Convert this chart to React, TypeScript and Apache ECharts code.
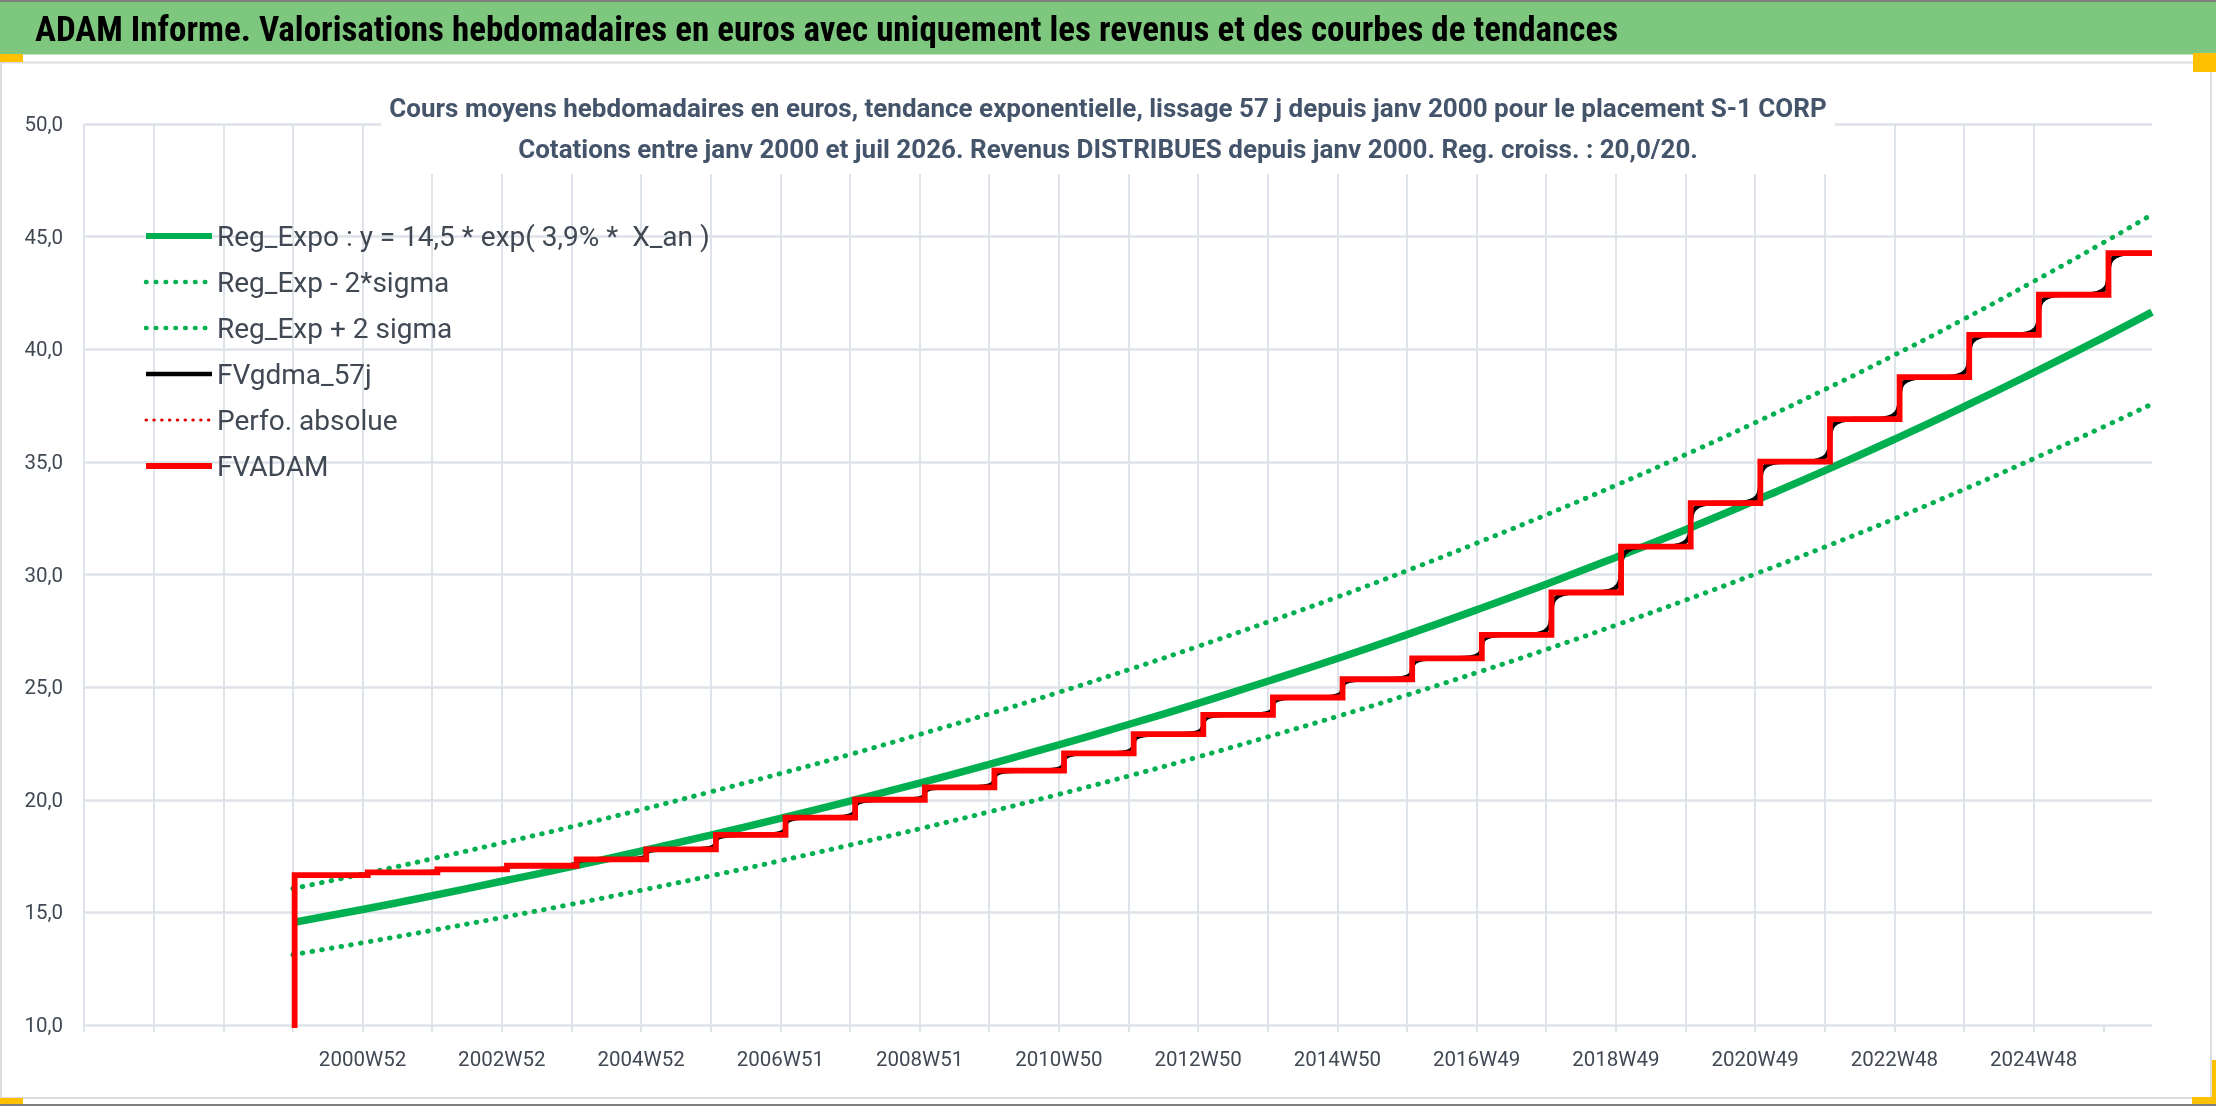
import React, { useEffect, useRef } from 'react';
import * as echarts from 'echarts';

// ---- data ----
const MAIN_TITLE = 'ADAM Informe. Valorisations hebdomadaires en euros avec uniquement les revenus et des courbes de tendances';
const SUBTITLE_1 = 'Cours moyens hebdomadaires en euros, tendance exponentielle, lissage 57 j depuis janv 2000 pour le placement S-1 CORP';
const SUBTITLE_2 = 'Cotations entre janv 2000 et juil 2026. Revenus DISTRIBUES depuis janv 2000. Reg. croiss. : 20,0/20.';

const SERIES_NAMES = [
  'Reg_Expo : y = 14,5 * exp( 3,9% *  X_an )',
  'Reg_Exp - 2*sigma',
  'Reg_Exp + 2 sigma',
  'FVgdma_57j',
  'Perfo. absolue',
  'FVADAM',
];

// x axis: years since janv 2000 (X_an); the category axis starts 3 years earlier
const TICK_LABELS = [
  '2000W52', '2002W52', '2004W52', '2006W51', '2008W51', '2010W50', '2012W50',
  '2014W50', '2016W49', '2018W49', '2020W49', '2022W48', '2024W48',
];
const X_MIN = -3;
const X_MAX = 26.7;

// trend curves, read at each year start (X_an = 0..26) and at the end of the range
const TREND_X = [0, 1, 2, 3, 4, 5, 6, 7, 8, 9, 10, 11, 12, 13, 14, 15, 16, 17, 18, 19, 20, 21, 22, 23, 24, 25, 26, 26.7];
const REG_EXPO = [14.55, 15.13, 15.74, 16.38, 17.03, 17.72, 18.43, 19.17, 19.94, 20.74, 21.57, 22.44, 23.34, 24.28,
  25.26, 26.27, 27.33, 28.43, 29.57, 30.76, 31.99, 33.28, 34.61, 36.0, 37.45, 38.96, 40.52, 41.65];
const REG_HIGH = [16.06, 16.7, 17.38, 18.08, 18.8, 19.56, 20.35, 21.16, 22.01, 22.9, 23.81, 24.77, 25.77, 26.81,
  27.89, 29.0, 30.17, 31.39, 32.65, 33.96, 35.32, 36.74, 38.21, 39.74, 41.34, 43.01, 44.73, 45.98];
const REG_LOW = [13.12, 13.65, 14.2, 14.77, 15.36, 15.98, 16.62, 17.29, 17.99, 18.71, 19.46, 20.24, 21.05, 21.9,
  22.79, 23.7, 24.65, 25.64, 26.67, 27.75, 28.86, 30.02, 31.22, 32.47, 33.78, 35.14, 36.55, 37.57];

// FVADAM yearly levels (2000 .. 2026); revenue distributed a few weeks after each new year
const FV_LEVELS = [16.65, 16.78, 16.91, 17.07, 17.35, 17.8, 18.44, 19.21, 20.0, 20.55, 21.29, 22.06, 22.91, 23.77,
  24.54, 25.35, 26.28, 27.32, 29.2, 31.24, 33.17, 35.01, 36.9, 38.76, 40.64, 42.42, 44.27];
const FV_START_X = 0.025;
const FV_START_VALUE = 0;
const DISTRIB_DELAY = 0.075; // years after 1st january
const SMOOTH_HALF = 0.35; // half-width (years) of the smoothed transition

const FONT = "Roboto, 'Open Sans', sans-serif";
const TEXT = '#404854';
const GRID = '#DEE2E9';
const GREEN = '#00B050';

function buildOption() {
  const trend = (vals: number[]) => TREND_X.map((x, i) => [x, vals[i]]);

  const fvStep: number[][] = [[0, FV_START_VALUE], [FV_START_X, FV_LEVELS[0]]];
  for (let k = 1; k < FV_LEVELS.length; k++) fvStep.push([k + DISTRIB_DELAY, FV_LEVELS[k]]);
  fvStep.push([X_MAX, FV_LEVELS[FV_LEVELS.length - 1]]);

  const fvSmooth: number[][] = [[FV_START_X, FV_LEVELS[0]]];
  for (let k = 1; k < FV_LEVELS.length; k++) {
    fvSmooth.push([k + DISTRIB_DELAY - SMOOTH_HALF, FV_LEVELS[k - 1]]);
    fvSmooth.push([k + DISTRIB_DELAY + SMOOTH_HALF, FV_LEVELS[k]]);
  }
  fvSmooth.push([X_MAX, FV_LEVELS[FV_LEVELS.length - 1]]);

  const tickValues: number[] = [];
  for (let v = X_MIN; v <= 26; v++) tickValues.push(v);
  const labelValues = TICK_LABELS.map((_, i) => 1 + 2 * i);

  const dotted = (w: number, gap: number) => ({ type: [0.5, gap] as any, cap: 'round' as const, width: w });
  const legendWidths = [6, 4.5, 4.5, 4.5, 3, 6];

  return {
    animation: false,
    backgroundColor: 'transparent',
    textStyle: { fontFamily: FONT },
    title: {
      text: SUBTITLE_1 + '\n' + SUBTITLE_2,
      left: 'center',
      top: 82,
      padding: [5, 8, 5, 8],
      backgroundColor: '#ffffff',
      textStyle: { fontFamily: FONT, fontSize: 26, fontWeight: 'bold', color: '#44546A', lineHeight: 41 },
    },
    legend: {
      orient: 'vertical',
      left: 138,
      top: 216,
      itemWidth: 66,
      itemHeight: 20,
      itemGap: 16,
      itemStyle: { opacity: 0 },
      textStyle: { fontFamily: FONT, fontSize: 28, color: TEXT, lineHeight: 30 },
      data: SERIES_NAMES.map((name, i) => ({ name, lineStyle: { width: legendWidths[i] } })),
    },
    grid: { left: 84, right: 64, top: 124, bottom: 81, containLabel: false },
    xAxis: {
      type: 'value',
      min: X_MIN,
      max: X_MAX,
      interval: 1,
      axisLine: { show: false },
      axisTick: { show: true, length: 7, customValues: tickValues, lineStyle: { color: GRID, width: 2 } },
      axisLabel: {
        customValues: labelValues,
        margin: 24,
        fontSize: 20.5,
        lineHeight: 20,
        color: TEXT,
        fontFamily: FONT,
        formatter: (v: number) => {
          const i = Math.round((v - 1) / 2);
          return Math.abs((v - 1) / 2 - i) < 1e-6 && i >= 0 && i < TICK_LABELS.length ? TICK_LABELS[i] : '';
        },
      },
      splitLine: { show: true, showMaxLine: false, lineStyle: { color: GRID, width: 2 } },
    },
    yAxis: {
      type: 'value',
      min: 10,
      max: 50,
      interval: 5,
      axisLine: { show: false },
      axisTick: { show: false },
      axisLabel: {
        margin: 21,
        fontSize: 20.5,
        color: TEXT,
        fontFamily: FONT,
        formatter: (v: number) => v.toFixed(1).replace('.', ','),
      },
      splitLine: { show: true, lineStyle: { color: GRID, width: 2.5 } },
    },
    series: [
      {
        name: SERIES_NAMES[0], type: 'line', symbol: 'none', smooth: true, z: 2,
        lineStyle: { color: GREEN, width: 7.5 }, itemStyle: { color: GREEN },
        data: trend(REG_EXPO),
      },
      {
        name: SERIES_NAMES[1], type: 'line', symbol: 'none', smooth: true, z: 2,
        lineStyle: { color: GREEN, ...dotted(5, 9.3) }, itemStyle: { color: GREEN },
        data: trend(REG_LOW),
      },
      {
        name: SERIES_NAMES[2], type: 'line', symbol: 'none', smooth: true, z: 2,
        lineStyle: { color: GREEN, ...dotted(5, 9.3) }, itemStyle: { color: GREEN },
        data: trend(REG_HIGH),
      },
      {
        name: SERIES_NAMES[3], type: 'line', symbol: 'none', smooth: 1, smoothMonotone: 'x', z: 3,
        lineStyle: { color: '#000000', width: 4.5 }, itemStyle: { color: '#000000' },
        data: fvSmooth,
      },
      {
        name: SERIES_NAMES[4], type: 'line', symbol: 'none', z: 3,
        lineStyle: { color: '#E00000', ...dotted(3, 7.3) }, itemStyle: { color: '#E00000' },
        data: [],
      },
      {
        name: SERIES_NAMES[5], type: 'line', symbol: 'none', step: 'end', z: 4,
        lineStyle: { color: '#FF0000', width: 5.8, join: 'miter', cap: 'butt' }, itemStyle: { color: '#FF0000' },
        data: fvStep,
      },
    ],
    graphic: [
      { type: 'rect', z: -10, silent: true, shape: { x: 0, y: 0, width: 2216, height: 1106 }, style: { fill: '#ffffff' } },
      { type: 'rect', z: -5, silent: true, shape: { x: 1, y: 62.5, width: 2210, height: 1035.5 }, style: { fill: 'none', stroke: '#DADCE0', lineWidth: 2 } },
      { type: 'rect', z: 100, silent: true, shape: { x: 0, y: 0, width: 2216, height: 2 }, style: { fill: '#7F7F7F' } },
      { type: 'rect', z: 100, silent: true, shape: { x: 0, y: 1104, width: 2216, height: 2 }, style: { fill: '#7F7F7F' } },
      { type: 'rect', z: 99, silent: true, shape: { x: 0, y: 2, width: 2216, height: 52.5 }, style: { fill: '#7EC77F' } },
      {
        type: 'text', z: 101, silent: true, x: 35, y: 29,
        style: { text: MAIN_TITLE, fill: '#000000', font: 'normal bold semi-condensed 35px Roboto, sans-serif', verticalAlign: 'middle' },
      },
      { type: 'rect', z: 101, silent: true, shape: { x: 0, y: 54, width: 23, height: 8 }, style: { fill: '#FFC000' } },
      { type: 'rect', z: 101, silent: true, shape: { x: 2193, y: 53, width: 23, height: 19 }, style: { fill: '#FFC000' } },
      { type: 'rect', z: 101, silent: true, shape: { x: 0, y: 1098, width: 23, height: 6 }, style: { fill: '#FFC000' } },
      { type: 'rect', z: 101, silent: true, shape: { x: 2212, y: 1060, width: 4, height: 44 }, style: { fill: '#FFC000' } },
      { type: 'rect', z: 101, silent: true, shape: { x: 2192, y: 1097, width: 24, height: 7 }, style: { fill: '#FFC000' } },
    ],
  };
}

export default function App() {
  const ref = useRef<HTMLDivElement>(null);
  useEffect(() => {
    document.body.style.margin = '0';
    if (!ref.current) return;
    const chart = echarts.init(ref.current, undefined, { renderer: 'svg' });
    chart.setOption(buildOption() as any);
    return () => chart.dispose();
  }, []);
  return <div ref={ref} style={{ position: 'fixed', left: 0, top: 0, width: 2216, height: 1106 }} />;
}
